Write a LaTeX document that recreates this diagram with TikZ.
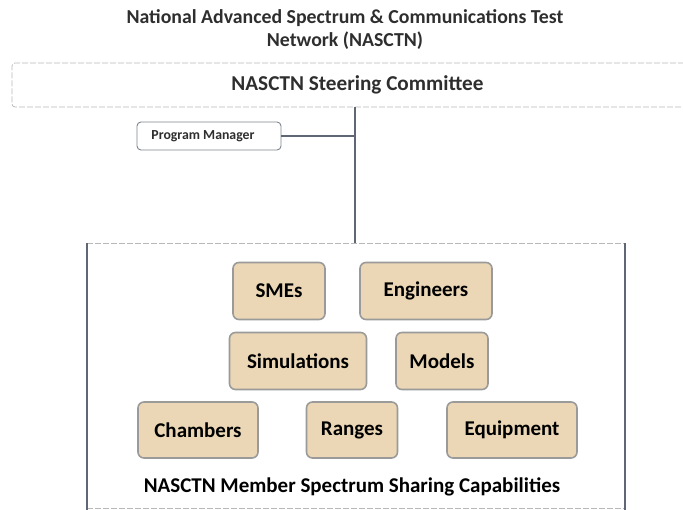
\documentclass[tikz,border=0pt]{standalone}
\usepackage{fontspec}
\setmainfont{Carlito}
\definecolor{slate}{HTML}{5E6773}
\definecolor{faint}{HTML}{B8B8B8}
\definecolor{tan}{HTML}{EBD7B5}
\definecolor{tanedge}{HTML}{9A9A9A}
\definecolor{txt}{HTML}{2E2E2E}
\tikzset{
  capbox/.style={draw=tanedge, line width=1.6pt, fill=tan, rounded corners=6pt, minimum height=57pt, inner sep=0pt, font=\bfseries\fontsize{21}{23}\selectfont, text=black},
  faintbox/.style={draw=faint, dashed, dash pattern=on 6pt off 2pt, line width=0.8pt},
  link/.style={draw=slate, line width=2pt}
}
\begin{document}
\begin{tikzpicture}[x=1pt,y=-1pt]
\useasboundingbox (0,0) rectangle (683,510);
% title
\node[font=\bfseries\fontsize{19.8}{23}\selectfont, text=txt, align=center] (title) at (345,29.5) {National Advanced Spectrum \& Communications Test\\Network (NASCTN)};
% steering committee
\draw[faintbox, rounded corners=3pt] (700,63) -- (12,63) -- (12,107) -- (700,107);
\node[font=\bfseries\fontsize{21.2}{23}\selectfont, text=txt] (steer) at (357.5,85) {NASCTN Steering Committee};
\coordinate (sbot) at (355,107);
% program manager
\node[draw=slate!80, line width=0.9pt, rounded corners=4pt, minimum width=144pt, minimum height=28pt, font=\bfseries\fontsize{13.8}{15}\selectfont, text=txt] (pm) at (209,136) {\hspace*{-12pt}Program Manager};
\coordinate (ptop) at (355,243);
\coordinate (pj) at (355,136);
\draw[link] (sbot) -- (ptop);
\draw[link] (pm.east) -- (pj);
% big box
\coordinate (bl) at (87,243);
\coordinate (br) at (625,243);
\coordinate (bll) at (87,512);
\coordinate (brr) at (625,512);
\draw[faintbox] (bl) -- (br);
\draw[faintbox] (87,508) -- (625,508);
\draw[link] (bl) -- (bll);
\draw[link] (br) -- (brr);
% capabilities
\node[capbox, minimum width=92pt] (smes) at (279,291) {SMEs};
\node[capbox, minimum width=132pt] (eng) at (426,291) {Engineers};
\node[capbox, minimum width=137pt] (sim) at (298,361) {Simulations};
\node[capbox, minimum width=92pt] (mod) at (442,361) {Models};
\node[capbox, minimum width=120pt, minimum height=56pt] (cham) at (198,430) {Chambers};
\node[capbox, minimum width=91pt, minimum height=56pt] (rng) at (352,430) {Ranges};
\node[capbox, minimum width=130pt, minimum height=56pt] (equip) at (512,430) {Equipment};
\node[font=\bfseries\fontsize{21}{23}\selectfont, text=black] (capt) at (352,487) {NASCTN Member Spectrum Sharing Capabilities};
\end{tikzpicture}
\end{document}
